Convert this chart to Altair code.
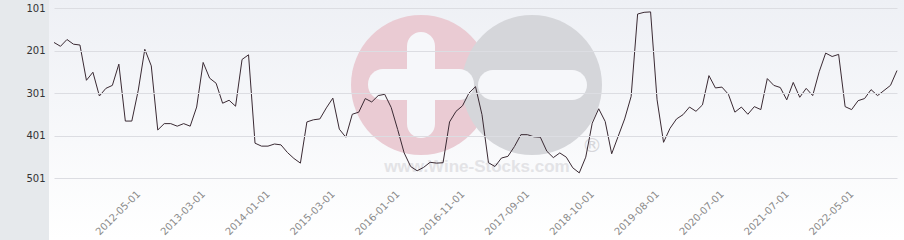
import json
import altair as alt
import pandas as pd

# ---- data ----
ranks = [182, 191, 175, 186, 188, 271, 252, 308, 290, 283,
         233, 367, 367, 294, 198, 237, 388, 373, 373, 379,
         373, 379, 334, 229, 266, 278, 325, 318, 332, 222,
         211, 419, 426, 426, 421, 423, 441, 455, 466, 369,
         364, 362, 336, 313, 386, 405, 351, 346, 314, 322,
         307, 304, 335, 387, 442, 474, 484, 476, 464, 466,
         465, 369, 344, 331, 301, 286, 352, 465, 474, 454,
         450, 427, 399, 399, 404, 405, 438, 453, 442, 452,
         477, 489, 452, 372, 338, 368, 444, 403, 362, 309,
         115, 111, 110, 317, 417, 384, 362, 352, 334, 344,
         329, 260, 289, 287, 304, 346, 334, 351, 333, 340,
         267, 283, 288, 317, 276, 311, 290, 307, 251, 207,
         215, 210, 333, 340, 319, 314, 293, 307, 295, 283,
         248]
tick_index = [13, 23, 33, 43, 53, 63, 73, 83, 93, 103, 113, 123]
tick_labels = ["2012-05-01", "2013-03-01", "2014-01-01", "2015-03-01",
               "2016-01-01", "2016-11-01", "2017-09-01", "2018-10-01",
               "2019-08-01", "2020-07-01", "2021-07-01", "2022-05-01"]
y_ticks = [101, 201, 301, 401, 501]

df = pd.DataFrame({"i": list(range(len(ranks))), "rank": ranks})
one = alt.Data(values=[{}])

W, H = 843, 178

label_expr = json.dumps(tick_labels) + "[round((datum.value - 13) / 10)]"

panel = alt.Chart(one).mark_rect(color="#e6e9ec").encode(
    x=alt.value(-54), x2=alt.value(-5), y=alt.value(0), y2=alt.value(240))

grad = alt.Chart(one).mark_rect(
    color=alt.LinearGradient(
        gradient="linear",
        stops=[alt.GradientStop(color="#eef0f5", offset=0),
               alt.GradientStop(color="#ffffff", offset=1)],
        x1=0, x2=0, y1=0, y2=1)
).encode(x=alt.value(-5), x2=alt.value(850), y=alt.value(0), y2=alt.value(240))

pink = alt.Chart(one).mark_circle(size=19600, color="#eacbd3", opacity=1).encode(
    x=alt.value(367), y=alt.value(85))
grey = alt.Chart(one).mark_circle(size=19600, color="#d5d6da", opacity=1).encode(
    x=alt.value(478), y=alt.value(85))
plus_v = alt.Chart(one).mark_rect(color="#f6f7fa", cornerRadius=14).encode(
    x=alt.value(353), x2=alt.value(381), y=alt.value(32), y2=alt.value(138))
plus_h = alt.Chart(one).mark_rect(color="#f6f7fa", cornerRadius=15).encode(
    x=alt.value(314), x2=alt.value(420), y=alt.value(69), y2=alt.value(100))
minus = alt.Chart(one).mark_rect(color="#f6f7fa", cornerRadius=15).encode(
    x=alt.value(424), x2=alt.value(533), y=alt.value(70), y2=alt.value(100))
site = alt.Chart(one).mark_text(
    text="www.Wine-Stocks.com", font="Liberation Sans", fontWeight="bold",
    fontSize=17, color="#e3e3e6").encode(x=alt.value(423), y=alt.value(167))
reg = alt.Chart(one).mark_text(
    text="®", font="DejaVu Sans", fontSize=20, color="#d6d6da").encode(
    x=alt.value(538), y=alt.value(146))

line = alt.Chart(df).mark_line(color="#3a2a33", strokeWidth=1).encode(
    x=alt.X("i:Q", scale=alt.Scale(domain=[0, len(ranks) - 1], nice=False, zero=False),
            axis=alt.Axis(values=tick_index, labelExpr=label_expr, labelAngle=-45,
                          labelAlign="right", labelBaseline="middle", labelPadding=14,
                          domain=False, ticks=False, grid=False, labelColor="#8a8a8a",
                          labelOverlap=False, title=None, zindex=1)),
    y=alt.Y("rank:Q", scale=alt.Scale(domain=[82, 501], reverse=True, nice=False, zero=False),
            axis=alt.Axis(values=y_ticks, grid=True, gridColor="#dcdde2", domain=False,
                          ticks=False, labelColor="#333333", labelPadding=9, title=None,
                          zindex=1)),
)

chart = alt.layer(panel, grad, pink, grey, plus_v, plus_h, minus, site, reg, line).properties(
    width=W, height=H,
    padding={"left": 54, "top": 0, "right": 7, "bottom": 62},
    autosize="none",
    background="white",
).configure_axis(
    labelFont="DejaVu Sans", labelFontSize=10
).configure_view(stroke=None)

chart.save("out.html", embed_options={"renderer": "svg", "actions": False})
